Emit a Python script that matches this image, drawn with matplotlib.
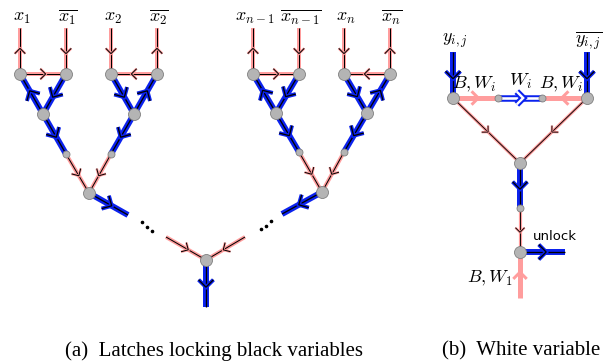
import numpy as np
import matplotlib.pyplot as plt

plt.rcParams['mathtext.fontset'] = 'cm'

PINK = '#ff9d9d'
BLUE = '#0b22ee'
NODE = '#b4b4b4'

# node positions, in pixels of the 605x364 picture (y grows downward)
N = {
    # left diagram, first pair of variables
    't1': (20, 28), 't2': (66, 28), 't3': (111, 28), 't4': (157, 28),
    'a1': (20, 74), 'a2': (66, 74), 'a3': (111, 74), 'a4': (157, 74),
    'b1': (43, 114), 'b2': (134, 114),
    'c1': (66, 154), 'c2': (111, 154),
    'd1': (89, 193), 'e1': (128, 215),
    # left diagram, last pair of variables
    't5': (253, 28), 't6': (299, 28), 't7': (344, 28), 't8': (390, 28),
    'a5': (253, 74), 'a6': (299, 74), 'a7': (344, 74), 'a8': (390, 74),
    'b3': (276, 113), 'b4': (367, 113),
    'c3': (299, 152), 'c4': (344, 152),
    'd2': (322, 192), 'e2': (282, 214),
    # root
    'f1': (166, 237), 'f2': (245, 237), 'g': (206, 260), 'h': (206, 307),
    # right diagram
    'y1': (453, 52), 'y2': (587, 52),
    'r1': (453, 98), 'r2': (498, 98), 'r3': (542, 98), 'r4': (587, 98),
    'r5': (520, 163), 'r6': (520, 208), 'r7': (520, 252),
    'r8': (565, 252), 'r9': (520, 298),
}

# (from, to, style, arrow direction: +1 points from->to, -1 the other way)
edges = [
    ('t1', 'a1', 'pink', -1), ('t2', 'a2', 'pink', 1),
    ('a1', 'a2', 'pink', 1),
    ('t3', 'a3', 'pink', 1), ('t4', 'a4', 'pink', -1),
    ('a4', 'a3', 'pink', 1),
    ('b1', 'a1', 'blue', 1), ('a2', 'b1', 'blue', 1),
    ('a3', 'b2', 'blue', 1), ('b2', 'a4', 'blue', 1),
    ('b1', 'c1', 'blue', 1), ('b2', 'c2', 'blue', 1),
    ('c1', 'd1', 'pink', 1), ('c2', 'd1', 'pink', 1),
    ('d1', 'e1', 'blue', 1),
    ('t5', 'a5', 'pink', -1), ('t6', 'a6', 'pink', 1),
    ('a5', 'a6', 'pink', 1),
    ('t7', 'a7', 'pink', 1), ('t8', 'a8', 'pink', -1),
    ('a8', 'a7', 'pink', 1),
    ('b3', 'a5', 'blue', 1), ('a6', 'b3', 'blue', 1),
    ('a7', 'b4', 'blue', 1), ('b4', 'a8', 'blue', 1),
    ('b3', 'c3', 'blue', 1), ('b4', 'c4', 'blue', 1),
    ('c3', 'd2', 'pink', 1), ('c4', 'd2', 'pink', 1),
    ('d2', 'e2', 'blue', 1),
    ('f1', 'g', 'pink', 1), ('f2', 'g', 'pink', 1),
    ('g', 'h', 'blue', 1),
    ('y1', 'r1', 'blue', 1), ('y2', 'r4', 'blue', 1),
    ('r1', 'r2', 'pinkthick', 1), ('r2', 'r3', 'hollow', 1),
    ('r4', 'r3', 'pinkthick', 1),
    ('r1', 'r5', 'pinkthin', 1), ('r4', 'r5', 'pinkthin', 1),
    ('r5', 'r6', 'blue', 1), ('r6', 'r7', 'pinkthin', 1),
    ('r7', 'r8', 'blue', 1), ('r9', 'r7', 'pinkthick', 1),
]

big_nodes = ['a1', 'a2', 'a3', 'a4', 'b1', 'b2', 'd1',
             'a5', 'a6', 'a7', 'a8', 'b3', 'b4', 'd2', 'g',
             'r1', 'r4', 'r5', 'r7']
small_nodes = ['c1', 'c2', 'c3', 'c4', 'r2', 'r3', 'r6']

labels = [
    ('t1', r'$x_1$'), ('t2', r'$\overline{x_1}$'),
    ('t3', r'$x_2$'), ('t4', r'$\overline{x_2}$'),
    ('t5', r'$x_{n-1}$'), ('t6', r'$\overline{x_{n-1}}$'),
    ('t7', r'$x_n$'), ('t8', r'$\overline{x_n}$'),
    ('y1', r'$y_{i,j}$'), ('y2', r'$\overline{y_{i,j}}$'),
]

dots_left = [(142, 222), (147, 226.5), (152, 231)]
dots_right = [(261, 229), (266, 225.5), (271, 221)]

PX = 0.72  # points per pixel at 100 dpi

STYLES = {
    # halo colour, halo width, core colour, core width,
    # chevron arm length, chevron halo width
    'pink': (PINK, 4, 'black', 1.0, 7.5, 2.6),
    'pinkthin': (PINK, 3.2, 'black', 0.9, 6.5, 2.4),
    'blue': (BLUE, 6, 'black', 1.3, 10.5, 4),
    'pinkthick': (PINK, 5, None, 0, 8, 3),
    'hollow': (BLUE, 6.5, 'white', 2.6, 9, 6.5),
}

fig = plt.figure(figsize=(6.05, 3.64), dpi=100)
ax = fig.add_axes([0, 0, 1, 1])
ax.set_xlim(0, 605)
ax.set_ylim(364, 0)
ax.axis('off')


def stroke(xs, ys, halo, hw, core, cw, z):
    ax.plot(xs, ys, color=halo, lw=hw * PX, solid_capstyle='butt',
            solid_joinstyle='miter', zorder=z)
    if core is not None:
        ax.plot(xs, ys, color=core, lw=cw * PX, solid_capstyle='butt',
                solid_joinstyle='miter', zorder=z + 0.01)


def draw_edge(p, q, style, direction, z):
    halo, hw, core, cw, s, chw = STYLES[style]
    p = np.array(N[p], float)
    q = np.array(N[q], float)
    stroke([p[0], q[0]], [p[1], q[1]], halo, hw, core, cw, z)
    d = (q - p) / np.linalg.norm(q - p) * direction
    n = np.array([-d[1], d[0]])
    m = (p + q) / 2
    apex = m + d * s * 0.35
    ang = np.radians(45)
    arm1 = apex - s * (d * np.cos(ang) + n * np.sin(ang))
    arm2 = apex - s * (d * np.cos(ang) - n * np.sin(ang))
    xs = [arm1[0], apex[0], arm2[0]]
    ys = [arm1[1], apex[1], arm2[1]]
    if style == 'pinkthick':
        ax.plot(xs, ys, color=PINK, lw=chw * PX, zorder=z + 0.02)
    elif style == 'hollow':
        stroke(xs, ys, BLUE, chw, 'white', 2.4, z + 0.02)
    else:
        stroke(xs, ys, halo, chw, core, cw, z + 0.02)


for i, (p, q, style, direction) in enumerate(edges):
    draw_edge(p, q, style, direction, 2 + i * 0.05)

for k in big_nodes:
    ax.plot(*N[k], 'o', ms=12 * PX, mfc=NODE, mec='#808080', mew=0.6, zorder=5)
for k in small_nodes:
    ax.plot(*N[k], 'o', ms=7 * PX, mfc=NODE, mec='#808080', mew=0.6, zorder=5)

for x, y in dots_left + dots_right:
    ax.plot(x, y, 'o', ms=1.6, color='black', zorder=5)

for k, s in labels:
    x, y = N[k]
    ax.text(x + 2, y - 11, s, ha='center', va='center', fontsize=13)

ax.text(474, 84, r'$B,W_i$', ha='center', va='center', fontsize=13, zorder=6)
ax.text(520, 81, r'$W_i$', ha='center', va='center', fontsize=13, zorder=6)
ax.text(561, 84, r'$B,W_i$', ha='center', va='center', fontsize=13, zorder=6)
ax.text(490, 278, r'$B,W_1$', ha='center', va='center', fontsize=13)
ax.text(555, 236, 'unlock', ha='center', va='center', fontsize=9.5)

ax.text(214, 351, '(a)  Latches locking black variables', ha='center',
        va='center', fontsize=15, family='Liberation Serif')
ax.text(521, 351, '(b)  White variable', ha='center', va='center',
        fontsize=15, family='Liberation Serif')

fig.savefig('out.png', dpi=100)
